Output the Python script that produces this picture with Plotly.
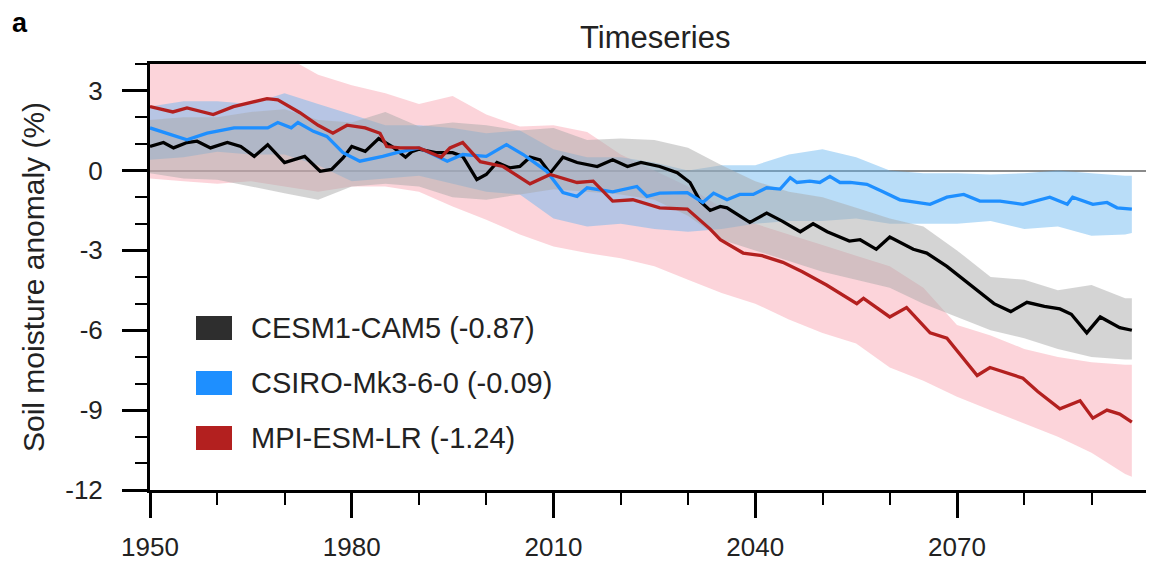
import plotly.graph_objects as go

# ---------------- data ----------------
cesm_years = [1950, 1952, 1953.5, 1955.5, 1957, 1959, 1961.5, 1963.5, 1965.5, 1967.5,
              1970, 1973, 1975.3, 1977, 1978.7, 1980, 1982, 1984, 1986, 1988,
              1989, 1990, 1992.5, 1995, 1996.5, 1998.6, 2000, 2001.6, 2003.5, 2005,
              2006.5, 2008, 2009.5, 2011.4, 2013.5, 2016.5, 2018.8, 2021, 2023, 2025.8,
              2028.4, 2030.3, 2031.8, 2033.3, 2034.8, 2035.8, 2039.2, 2041.7, 2044, 2046.7,
              2048.6, 2050.7, 2054, 2055.6, 2058, 2060, 2063.5, 2065.5, 2068.5, 2071,
              2073, 2075.5, 2078, 2080.4, 2083, 2085.3, 2087, 2089.3, 2091.3, 2094.2, 2096]
cesm_mean = [0.9, 1.05, 0.85, 1.05, 1.1, 0.85, 1.05, 0.9, 0.53, 0.97,
             0.3, 0.53, -0.03, 0.04, 0.47, 0.9, 0.72, 1.2, 0.9, 0.5,
             0.72, 0.8, 0.67, 0.67, 0.53, -0.34, -0.15, 0.3, 0.1, 0.15,
             0.5, 0.4, -0.1, 0.5, 0.3, 0.15, 0.4, 0.15, 0.3, 0.15,
             -0.08, -0.45, -1.15, -1.5, -1.35, -1.4, -1.95, -1.6, -1.9, -2.3,
             -2.0, -2.3, -2.65, -2.6, -2.96, -2.5, -2.96, -3.1, -3.6, -4.1,
             -4.5, -5.0, -5.3, -4.95, -5.1, -5.2, -5.4, -6.1, -5.5, -5.9, -6.0]

csiro_years = [1950, 1953, 1955.5, 1958.5, 1962.5, 1967.5, 1969, 1971, 1972, 1974.3,
               1976.3, 1978.7, 1981.2, 1984.6, 1986.7, 1990, 1994.2, 1996.5, 2000, 2003,
               2005.5, 2009, 2011.4, 2013.5, 2015, 2018.8, 2022.4, 2023.9, 2025.8, 2029.9,
               2032.2, 2033.8, 2035.8, 2037.7, 2039.7, 2041.7, 2043.7, 2045.2, 2046.2, 2048.1,
               2049.6, 2051.1, 2052.6, 2054.1, 2056.6, 2059, 2061.5, 2066, 2068.5, 2071,
               2073.4, 2076.4, 2079.8, 2083.8, 2086.4, 2087.2, 2090.2, 2092.3, 2093.8, 2096]
csiro_mean = [1.6, 1.35, 1.15, 1.4, 1.6, 1.6, 1.8, 1.6, 1.8, 1.47,
              1.28, 0.67, 0.35, 0.53, 0.67, 0.85, 0.35, 0.6, 0.53, 0.97,
              0.6, -0.03, -0.83, -0.97, -0.65, -0.8, -0.6, -0.97, -0.85, -0.83,
              -1.2, -0.85, -1.1, -0.9, -0.9, -0.65, -0.7, -0.27, -0.45, -0.4,
              -0.45, -0.22, -0.45, -0.45, -0.52, -0.8, -1.1, -1.27, -1.0, -0.9,
              -1.15, -1.15, -1.27, -1.0, -1.27, -1.0, -1.27, -1.2, -1.4, -1.45]

mpi_years = [1950, 1953.4, 1955.5, 1959.4, 1962.4, 1965, 1967.4, 1969, 1972.3, 1975,
             1977.2, 1979.3, 1982, 1984.2, 1985.2, 1987.2, 1990, 1993.3, 1994.6, 1996.5,
             1999.1, 2002.5, 2006.5, 2009.5, 2013.5, 2015.9, 2018.8, 2021.8, 2025.8, 2029.9,
             2033.3, 2034.8, 2038.2, 2041, 2044.1, 2047, 2050.6, 2055.1, 2056.1, 2060,
             2062.5, 2066, 2068.5, 2073, 2074.9, 2079.8, 2082, 2085.3, 2088.3, 2090.2,
             2092.3, 2094.2, 2096]
mpi_mean = [2.4, 2.2, 2.35, 2.1, 2.4, 2.55, 2.7, 2.65, 2.17, 1.7,
            1.4, 1.7, 1.6, 1.4, 0.9, 0.85, 0.85, 0.5, 0.85, 1.05,
            0.33, 0.15, -0.5, -0.15, -0.45, -0.4, -1.15, -1.1, -1.4, -1.45,
            -2.2, -2.6, -3.1, -3.2, -3.45, -3.8, -4.3, -5.0, -4.8, -5.5,
            -5.15, -6.1, -6.3, -7.7, -7.4, -7.8, -8.3, -8.95, -8.65, -9.3,
            -9.0, -9.15, -9.45]

band_years = [1950, 1955, 1960, 1965, 1970, 1975, 1980, 1985, 1990, 1995,
              2000, 2005, 2010, 2015, 2020, 2025, 2030, 2035, 2040, 2045,
              2050, 2055, 2060, 2065, 2070, 2075, 2080, 2085, 2090, 2095, 2096]
cesm_upper = [1.9, 2.0, 2.0, 2.2, 2.3, 1.9, 1.8, 2.2, 1.65, 1.8,
              1.7, 1.5, 1.6, 1.15, 1.2, 1.15, 0.85, 0.2, -0.4, -0.8,
              -1.0, -1.4, -1.8, -2.1, -3.0, -4.0, -4.1, -4.5, -4.3, -4.8, -4.8]
cesm_lower = [-0.1, -0.3, -0.35, -0.6, -0.85, -1.1, -0.6, -0.5, -0.6, -1.0,
              -1.1, -0.9, -0.7, -0.8, -0.9, -1.1, -1.7, -2.6, -3.0, -3.4,
              -3.8, -4.1, -4.4, -5.0, -5.5, -6.0, -6.3, -6.7, -7.0, -7.1, -7.1]
csiro_upper = [2.4, 2.6, 2.6, 2.5, 2.9, 2.5, 2.1, 1.7, 1.7, 1.6,
               1.4, 1.5, 0.8, 0.5, 0.5, 0.3, 0.0, 0.2, 0.2, 0.6,
               0.8, 0.5, 0.0, -0.1, -0.1, -0.15, -0.1, 0.0, -0.1, -0.2, -0.2]
csiro_lower = [0.4, 0.5, 0.7, 0.6, 0.6, 0.2, -0.4, -0.3, -0.2, -0.5,
               -0.8, -0.9, -1.8, -2.1, -2.0, -2.2, -2.3, -2.2, -2.0, -1.9,
               -1.9, -1.8, -2.0, -2.0, -2.0, -1.9, -2.2, -2.1, -2.45, -2.4, -2.35]
mpi_upper = [4.5, 4.5, 4.5, 4.5, 4.3, 3.6, 3.2, 2.9, 2.5, 2.8,
             2.1, 1.65, 1.7, 1.45, 0.6, 0.0, -0.6, -1.4, -2.0, -2.4,
             -2.8, -3.2, -3.6, -4.4, -5.8, -6.2, -6.7, -7.0, -7.2, -7.3, -7.3]
mpi_lower = [-0.3, -0.4, -0.5, -0.4, -0.6, -0.8, -0.6, -0.6, -0.8, -1.35,
             -1.85, -2.4, -2.85, -3.1, -3.3, -3.6, -4.1, -4.6, -5.0, -5.6,
             -6.1, -6.5, -7.4, -7.9, -8.5, -9.0, -9.5, -10.0, -10.6, -11.4, -11.5]

model_names = ["CESM1-CAM5", "CSIRO-Mk3-6-0", "MPI-ESM-LR"]
model_trends = ["-0.87", "-0.09", "-1.24"]

x_ticks = [1950, 1980, 2010, 2040, 2070]
y_ticks = [3, 0, -3, -6, -9, -12]

# ---------------- styles ----------------
line_colors = ["#000000", "#1E8FFF", "#B3201F"]
band_colors = ["rgba(170,170,170,0.5)", "rgba(100,180,240,0.45)", "rgba(248,160,172,0.45)"]
swatch_colors = ["#2E2E2E", "#1E8FFF", "#B3201F"]
FONT = "Liberation Sans, Arial, Helvetica, sans-serif"

# The page body has an 8px margin, so the figure is sized to fill the window exactly.
BODY = 8
WIN_W, WIN_H = 1154, 568
W, H = WIN_W - BODY, WIN_H - BODY
PL, PT, PB = 150, 64, 490          # plot box in window pixels
pw, ph = WIN_W - PL, PB - PT
X0 = 1950
XMAX = 1950 + pw / 6.725


def px_x(x):
    return (x - PL) / pw


def px_y(y):
    return 1 - (y - PT) / ph


fig = go.Figure()

bands = [(mpi_upper, mpi_lower, band_colors[2]),
         (csiro_upper, csiro_lower, band_colors[1]),
         (cesm_upper, cesm_lower, band_colors[0])]
for up, lo, col in bands:
    fig.add_trace(go.Scatter(
        x=band_years + band_years[::-1],
        y=up + lo[::-1],
        fill="toself", fillcolor=col, mode="none",
        hoverinfo="skip", showlegend=False))

series = [(cesm_years, cesm_mean, line_colors[0]),
          (csiro_years, csiro_mean, line_colors[1]),
          (mpi_years, mpi_mean, line_colors[2])]
for (xs, ys, col), name in zip(series, model_names):
    fig.add_trace(go.Scatter(x=xs, y=ys, mode="lines", name=name,
                             line=dict(color=col, width=3.3), showlegend=False))

# custom legend (swatch + text)
shapes = []
annotations = []
leg_y = [328, 383, 438]  # row centres in window pixels
for i, (name, tr) in enumerate(zip(model_names, model_trends)):
    yc = leg_y[i]
    shapes.append(dict(type="rect", xref="paper", yref="paper",
                       x0=px_x(196), x1=px_x(232),
                       y0=px_y(yc + 12), y1=px_y(yc - 12),
                       fillcolor=swatch_colors[i], line=dict(width=0)))
    annotations.append(dict(xref="paper", yref="paper",
                            x=px_x(249), y=px_y(yc),
                            xanchor="left", yanchor="middle", showarrow=False,
                            text=f"{name} ({tr})",
                            font=dict(family=FONT, size=29, color="#222")))

annotations.append(dict(xref="paper", yref="paper", x=px_x(655), y=px_y(37),
                        xanchor="center", yanchor="middle", showarrow=False,
                        text="Timeseries", font=dict(family=FONT, size=31, color="#222")))
annotations.append(dict(xref="paper", yref="paper", x=px_x(10), y=px_y(23),
                        xanchor="left", yanchor="middle", showarrow=False,
                        text="<b>a</b>", font=dict(family=FONT, size=27, color="#000")))
annotations.append(dict(xref="paper", yref="paper", x=px_x(33), y=px_y(277),
                        xanchor="center", yanchor="middle", showarrow=False, textangle=-90,
                        text="Soil moisture anomaly (%)",
                        font=dict(family=FONT, size=30, color="#222")))

fig.update_layout(
    width=W, height=H,
    margin=dict(l=PL - BODY, r=0, t=PT - BODY, b=H - (PB - BODY), pad=0),
    paper_bgcolor="white", plot_bgcolor="white",
    shapes=shapes, annotations=annotations,
    showlegend=False,
    font=dict(family=FONT, color="#222"),
)
fig.update_xaxes(
    range=[X0, XMAX], tickmode="array", tickvals=x_ticks,
    ticktext=[str(v) for v in x_ticks],
    ticks="outside", ticklen=25, tickwidth=3, tickcolor="#000",
    showline=True, linecolor="#000", linewidth=3, mirror=True,
    showgrid=False, zeroline=False,
    tickfont=dict(family=FONT, size=26, color="#222"),
    ticklabelstandoff=7,
    minor=dict(dtick=10, tick0=1950, ticks="outside", ticklen=12, tickwidth=2,
               tickcolor="#000", showgrid=False),
)
fig.update_yaxes(
    range=[-12, 4.0], tickmode="array", tickvals=y_ticks,
    ticktext=[str(v) for v in y_ticks],
    ticks="outside", ticklen=25, tickwidth=3, tickcolor="#000",
    showline=True, linecolor="#000", linewidth=3, mirror=False,
    showgrid=False, zeroline=True, zerolinecolor="#8a8a8a", zerolinewidth=2,
    tickfont=dict(family=FONT, size=26, color="#222"),
    ticklabelstandoff=14,
    minor=dict(dtick=1, tick0=0, ticks="outside", ticklen=12, tickwidth=2,
               tickcolor="#000", showgrid=False),
)

fig.write_html("out.html")
